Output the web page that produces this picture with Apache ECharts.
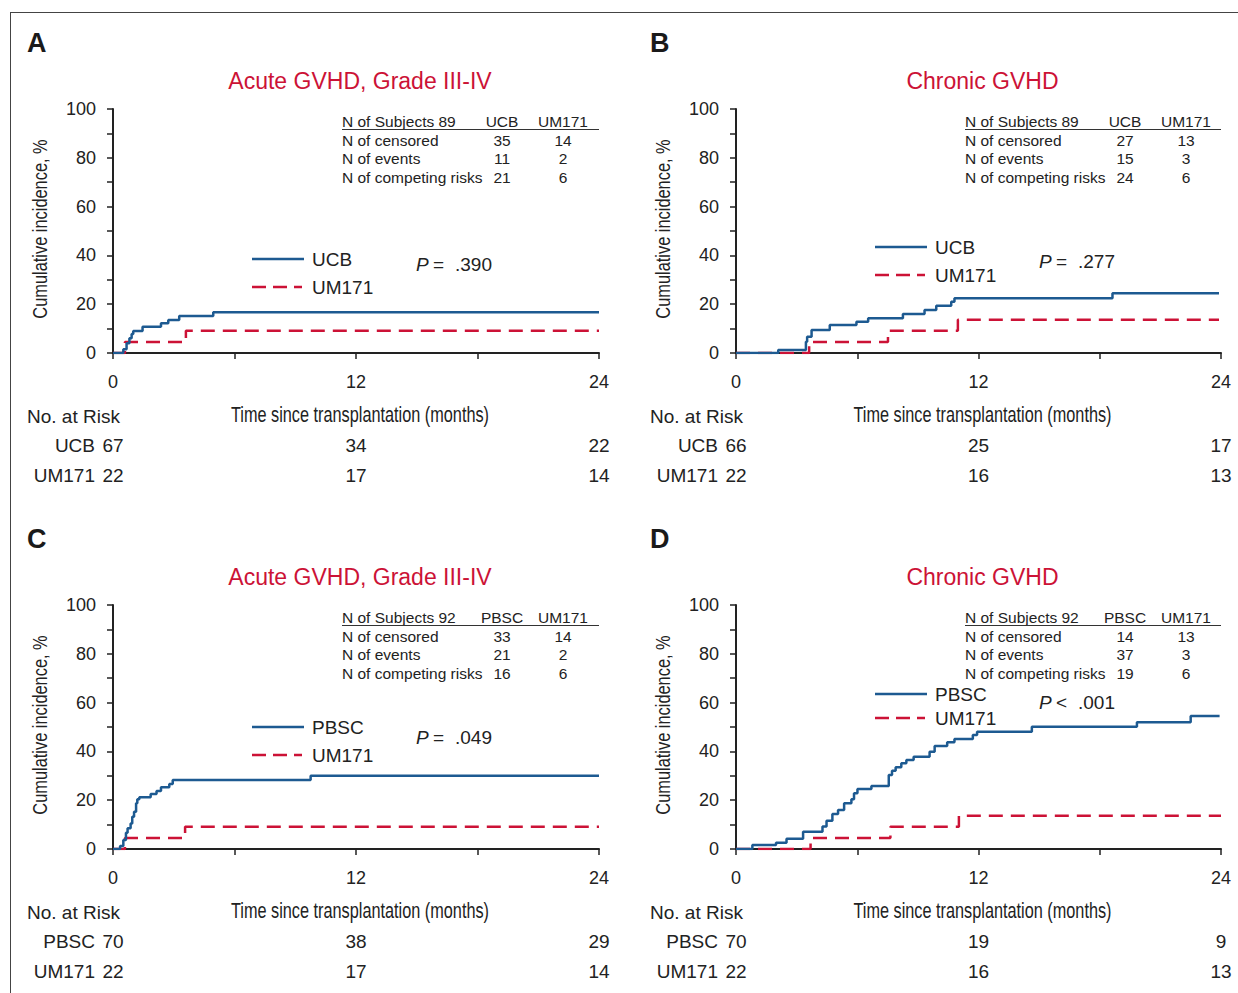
<!DOCTYPE html>
<html>
<head>
<meta charset="utf-8">
<script src="https://cdn.jsdelivr.net/npm/echarts@6/dist/echarts.min.js"></script>
<style>
  html, body { margin: 0; padding: 0; background: #fff; }
  #main { width: 1238px; height: 993px; }
</style>
</head>
<body>
<div id="main"></div>
<script>
// cumulative incidence, [month, %]
const ucbAcute = [[0,0],[0.51,1.5],[0.67,4],[0.81,6],[0.92,7.8],[1.0,9],[1.46,10.8],[2.37,12.2],[2.73,13.5],[3.27,15.2],[4.95,16.7],[24,16.7]];
const umAcuteA = [[0,0],[0.59,4.5],[3.6,9.1],[24,9.1]];
const ucbChronic = [[0,0],[2.09,1.2],[3.46,4.6],[3.52,6.7],[3.74,9.4],[4.64,11.5],[5.96,12.8],[6.54,14.2],[8.26,16],[9.33,17.6],[9.91,19.4],[10.65,21],[10.81,22.4],[18.63,24.5],[23.9,24.5]];
const umChronicB = [[0,0],[3.62,4.5],[7.52,9.1],[10.98,13.6],[23.9,13.6]];
const pbscAcute = [[0,0],[0.35,1.2],[0.51,3.7],[0.64,6.7],[0.72,8.5],[0.87,10.5],[0.95,13.2],[1.04,15.3],[1.14,18.7],[1.2,20.4],[1.3,21.2],[1.86,22.5],[2.15,23.8],[2.37,25.3],[2.78,26.6],[2.95,28.3],[9.76,30],[24,30]];
const umAcuteC = [[0,0],[0.59,4.5],[3.56,9.1],[24,9.1]];
const pbscChronic = [[0,0],[0.81,1.6],[1.98,2.6],[2.5,4.2],[3.32,7.1],[4.28,9.2],[4.48,11.6],[4.77,14.3],[5.05,16],[5.35,18.7],[5.71,20.4],[5.84,22.8],[6.01,24.6],[6.7,25.8],[7.56,30.3],[7.72,32.1],[7.9,33.5],[8.18,35.1],[8.43,36.5],[8.79,37.8],[9.58,39.9],[9.83,42.2],[10.45,43.7],[10.81,45.1],[11.72,46.7],[11.93,48.1],[14.64,50.1],[19.84,51.9],[22.5,54.5],[23.93,54.5]];
const umChronicD = [[0,0],[3.69,4.5],[7.64,9.1],[11.03,13.6],[24,13.6]];

// numbers at risk at 0, 12, 24 months
const riskTimes = [0, 12, 24];
const riskA = [["UCB", [67, 34, 22]], ["UM171", [22, 17, 14]]];
const riskB = [["UCB", [66, 25, 17]], ["UM171", [22, 16, 13]]];
const riskC = [["PBSC", [70, 38, 29]], ["UM171", [22, 17, 14]]];
const riskD = [["PBSC", [70, 19, 9]], ["UM171", [22, 16, 13]]];

// summary tables
const tableA = { head: ["N of Subjects 89", "UCB", "UM171"], rows: [["N of censored", 35, 14], ["N of events", 11, 2], ["N of competing risks", 21, 6]] };
const tableB = { head: ["N of Subjects 89", "UCB", "UM171"], rows: [["N of censored", 27, 13], ["N of events", 15, 3], ["N of competing risks", 24, 6]] };
const tableC = { head: ["N of Subjects 92", "PBSC", "UM171"], rows: [["N of censored", 33, 14], ["N of events", 21, 2], ["N of competing risks", 16, 6]] };
const tableD = { head: ["N of Subjects 92", "PBSC", "UM171"], rows: [["N of censored", 14, 13], ["N of events", 37, 3], ["N of competing risks", 19, 6]] };

const titles = ["Acute GVHD, Grade III-IV", "Chronic GVHD", "Acute GVHD, Grade III-IV", "Chronic GVHD"];
const letters = ["A", "B", "C", "D"];
const pSigns = ["=", "=", "=", "<"];
const pValues = [".390", ".277", ".049", ".001"];

const BLUE = "#1d5a91";
const RED = "#cc1236";
const FONT = "'Liberation Sans', Arial, sans-serif";

const panels = [
  { left: 113, top: 109, width: 486, cur: ucbAcute, um: umAcuteA, name: "UCB", risk: riskA, table: tableA, legY: 259, legGap: 28, pY: 264 },
  { left: 736, top: 109, width: 485, cur: ucbChronic, um: umChronicB, name: "UCB", risk: riskB, table: tableB, legY: 247, legGap: 28, pY: 261 },
  { left: 113, top: 605, width: 486, cur: pbscAcute, um: umAcuteC, name: "PBSC", risk: riskC, table: tableC, legY: 727, legGap: 28, pY: 737 },
  { left: 736, top: 605, width: 485, cur: pbscChronic, um: umChronicD, name: "PBSC", risk: riskD, table: tableD, legY: 694, legGap: 24, pY: 702 }
];

const chart = echarts.init(document.getElementById("main"), null, { renderer: "svg" });

const grids = [];
const xAxes = [];
const yAxes = [];
const series = [];

panels.forEach((p, i) => {
  grids.push({ left: p.left, top: p.top, width: p.width, height: 244 });
  xAxes.push({
    gridIndex: i,
    type: "value",
    min: 0,
    max: 24,
    interval: 12,
    offset: 6,
    axisLine: { lineStyle: { color: "#222", width: 2 } },
    axisTick: { length: 6, lineStyle: { color: "#222", width: 1.5 } },
    minorTick: { show: true, splitNumber: 2, length: 6, lineStyle: { color: "#222", width: 1.5 } },
    axisLabel: { margin: 14, fontFamily: FONT, fontSize: 18, color: "#222" },
    splitLine: { show: false }
  });
  yAxes.push({
    gridIndex: i,
    type: "value",
    min: 0,
    max: 100,
    interval: 20,
    axisLine: { show: true, lineStyle: { color: "#222", width: 2 } },
    axisTick: { show: true, length: 6, lineStyle: { color: "#222", width: 1.5 } },
    minorTick: { show: true, splitNumber: 2, length: 6, lineStyle: { color: "#222", width: 1.5 } },
    axisLabel: { margin: 17, fontFamily: FONT, fontSize: 18, color: "#222" },
    splitLine: { show: false }
  });
  series.push({
    name: p.name, type: "line", step: "end", xAxisIndex: i, yAxisIndex: i,
    data: p.cur, showSymbol: false, silent: true,
    lineStyle: { color: BLUE, width: 2.5 }, z: 3
  });
  series.push({
    name: "UM171", type: "line", step: "end", xAxisIndex: i, yAxisIndex: i,
    data: p.um, showSymbol: false, silent: true,
    lineStyle: { color: RED, width: 2.5, type: [14, 8] }, z: 2
  });
});

const txt = (x, y, text, o, extra) => Object.assign({
  type: "text", x: x, y: y, silent: true,
  style: Object.assign({ text: text, fontFamily: FONT, fontSize: 19, fill: "#222", verticalAlign: "middle" }, o || {})
}, extra || {});

function buildGraphic() {
  const g = [];
  // frame
  g.push({ type: "line", shape: { x1: 10, y1: 12.5, x2: 1238, y2: 12.5 }, style: { stroke: "#444", lineWidth: 1 } });
  g.push({ type: "line", shape: { x1: 10.5, y1: 12, x2: 10.5, y2: 993 }, style: { stroke: "#444", lineWidth: 1 } });

  panels.forEach((p, i) => {
    const dx = p.left - 113;
    const dy = p.top - 109;
    g.push(txt(27 + dx, 43 + dy, letters[i], { fontSize: 27, fontWeight: "bold", fill: "#1a1a1a" }));
    g.push(txt(p.left + p.width * 0.5 + 4, 81 + dy, titles[i], { fontSize: 23, fill: RED, align: "center" }));

    // condensed axis names
    g.push(txt(p.left + p.width * 0.5 + 4, 414 + dy, "Time since transplantation (months)",
      { fontSize: 22, align: "center" }, { scaleX: 0.74 }));
    g.push(txt(40 + dx, 229 + dy, "Cumulative incidence, %",
      { fontSize: 21, align: "center" }, { scaleX: 0.78, rotation: Math.PI / 2 }));

    // legend
    g.push({ type: "line", shape: { x1: 252 + dx, y1: p.legY, x2: 304 + dx, y2: p.legY }, style: { stroke: BLUE, lineWidth: 2.5 } });
    g.push(txt(312 + dx, p.legY, p.name));
    const ly = p.legY + p.legGap;
    g.push({ type: "line", shape: { x1: 252 + dx, y1: ly, x2: 302 + dx, y2: ly }, style: { stroke: RED, lineWidth: 2.5, lineDash: [14, 7] } });
    g.push(txt(312 + dx, ly, "UM171"));

    // p value
    g.push(txt(416 + dx, p.pY, "P", { fontStyle: "italic" }));
    g.push(txt(433 + dx, p.pY, pSigns[i]));
    g.push(txt(455 + dx, p.pY, pValues[i]));

    // summary table
    const t = p.table;
    const tx = 342 + dx;
    const c1 = 502 + dx;
    const c2 = 563 + dx;
    const rowY = [121, 140, 158, 177].map(v => v + dy);
    const ts = { fontSize: 15.5 };
    g.push(txt(tx, rowY[0], t.head[0], ts));
    g.push(txt(c1, rowY[0], t.head[1], Object.assign({ align: "center" }, ts)));
    g.push(txt(c2, rowY[0], t.head[2], Object.assign({ align: "center" }, ts)));
    g.push({ type: "line", shape: { x1: tx, y1: 129.5 + dy, x2: p.left + p.width, y2: 129.5 + dy }, style: { stroke: "#333", lineWidth: 1 } });
    t.rows.forEach((r, k) => {
      g.push(txt(tx, rowY[k + 1], r[0], ts));
      g.push(txt(c1, rowY[k + 1], String(r[1]), Object.assign({ align: "center" }, ts)));
      g.push(txt(c2, rowY[k + 1], String(r[2]), Object.assign({ align: "center" }, ts)));
    });

    // numbers at risk
    g.push(txt(27 + dx, 416 + dy, "No. at Risk"));
    p.risk.forEach((row, k) => {
      const y = 445 + k * 30 + dy;
      g.push(txt(95 + dx, y, row[0], { align: "right" }));
      row[1].forEach((n, j) => {
        const px = chart.convertToPixel({ xAxisIndex: i }, riskTimes[j]);
        g.push(txt(px, y, String(n), { align: "center" }));
      });
    });
  });
  return g;
}

chart.setOption({
  animation: false,
  backgroundColor: "#fff",
  grid: grids,
  xAxis: xAxes,
  yAxis: yAxes,
  series: series
});
chart.setOption({ graphic: buildGraphic() });
</script>
</body>
</html>
